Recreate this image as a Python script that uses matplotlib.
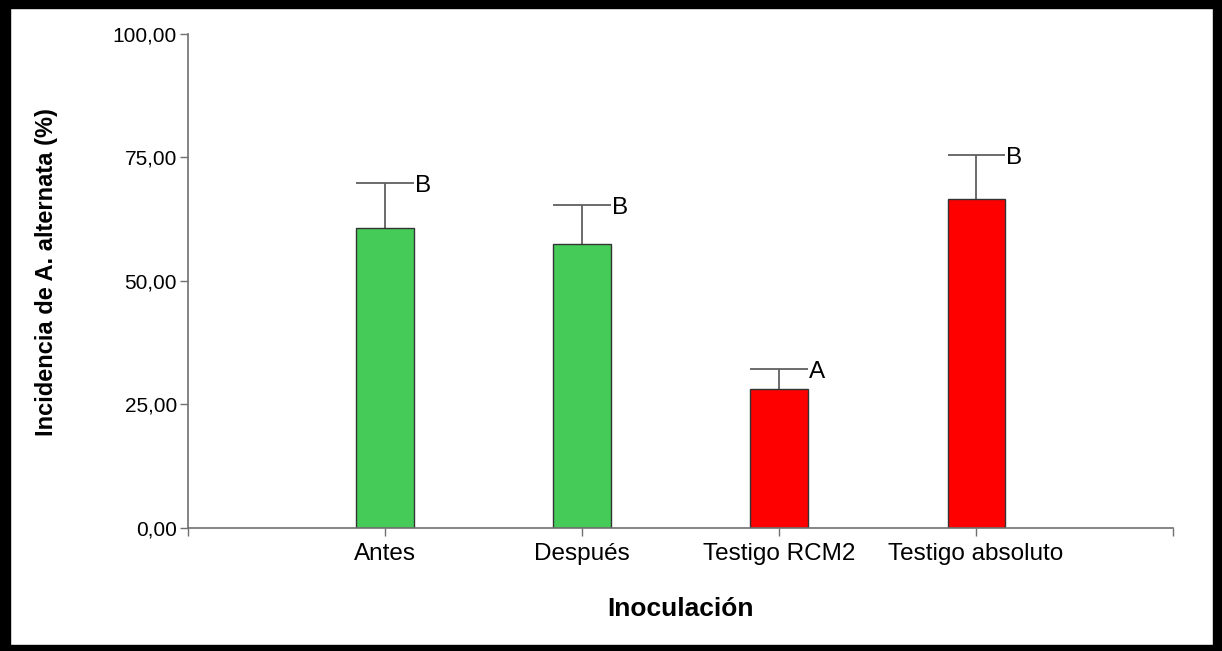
import matplotlib
matplotlib.use("Agg")
import matplotlib.pyplot as plt
from matplotlib.patches import Rectangle
from matplotlib.ticker import FuncFormatter

plt.rcParams['font.family'] = ['Liberation Sans', 'DejaVu Sans']

categories = ["Antes", "Después", "Testigo RCM2", "Testigo absoluto"]
means = [60.8, 57.4, 28.1, 66.6]
upper = [69.8, 65.4, 32.2, 75.5]
letters = ["B", "B", "A", "B"]
colors = ["#45CC58", "#45CC58", "#FF0000", "#FF0000"]

fig = plt.figure(figsize=(12.22, 6.51), dpi=100)
ax = fig.add_axes([0.1538, 0.189, 0.8062, 0.759])

xs = list(range(1, len(categories) + 1))
w = 0.29
ax.bar(xs, means, width=w, color=colors, edgecolor="#333333", linewidth=1.0, zorder=2)
errc = "#606060"
ax.vlines(xs, means, upper, color=errc, linewidth=1.3, zorder=1)
ax.hlines(upper, [x - w / 2 for x in xs], [x + w / 2 for x in xs], color=errc, linewidth=1.3, zorder=1)
for x, u, l in zip(xs, upper, letters):
    ax.annotate(l, (x + w / 2, u), xytext=(1, -2), textcoords="offset points",
                ha="left", va="center", fontsize=17.5)

ax.set_xlim(0, 5)
ax.set_ylim(0, 100)
ax.set_yticks([0, 25, 50, 75, 100])
ax.yaxis.set_major_formatter(FuncFormatter(lambda v, p: f"{v:.2f}".replace(".", ",")))
ax.set_xticks([0] + xs + [5])
ax.set_xticklabels([""] + categories + [""])

for s in ["top", "right"]:
    ax.spines[s].set_visible(False)
for s in ["left", "bottom"]:
    ax.spines[s].set_color("#707070")
    ax.spines[s].set_linewidth(1.2)
ax.tick_params(axis="both", direction="out", length=6, width=1.0, color="#707070")
ax.tick_params(axis="y", labelsize=15, pad=2)
ax.tick_params(axis="x", labelsize=17.5, pad=5)

ax.set_xlabel("Inoculación", fontsize=19, fontweight="bold", labelpad=23)
fig.text(47 / 1222, 1 - 272 / 651, "Incidencia de A. alternata (%)", rotation=90,
         ha="center", va="center", fontsize=17, fontweight="bold")

# thick black frame around the picture
fig.patches.append(Rectangle((0, 0), 10 / 1222, 1, transform=fig.transFigure, color="black"))
fig.patches.append(Rectangle((1 - 9 / 1222, 0), 9 / 1222, 1, transform=fig.transFigure, color="black"))
fig.patches.append(Rectangle((0, 1 - 8 / 651), 1, 8 / 651, transform=fig.transFigure, color="black"))
fig.patches.append(Rectangle((0, 0), 1, 6 / 651, transform=fig.transFigure, color="black"))

fig.savefig("out.png", dpi=100)
